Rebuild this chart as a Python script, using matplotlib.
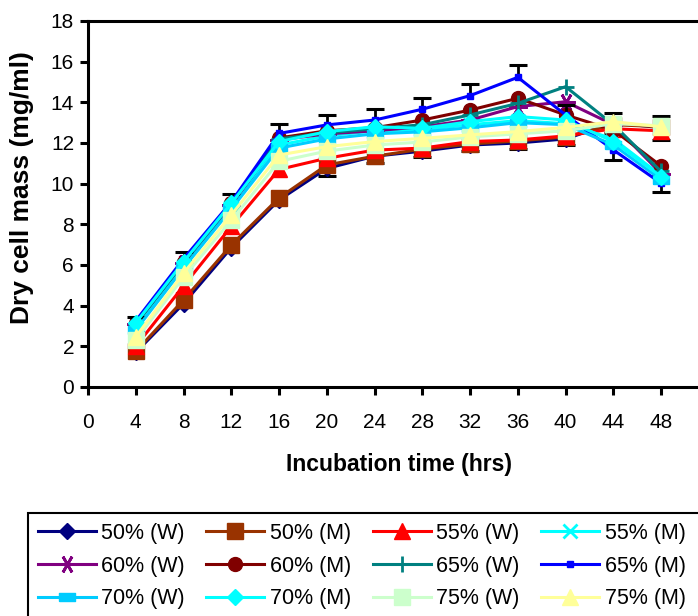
import numpy as np
import matplotlib.pyplot as plt
from matplotlib.patches import Rectangle

plt.rcParams['font.family'] = ['Liberation Sans', 'DejaVu Sans']

# incubation time (hrs)
hours = [4, 8, 12, 16, 20, 24, 28, 32, 36, 40, 44, 48]

labels = ['50% (W)', '50% (M)', '55% (W)', '55% (M)',
          '60% (W)', '60% (M)', '65% (W)', '65% (M)',
          '70% (W)', '70% (M)', '75% (W)', '75% (M)']

# dry cell mass (mg/ml)
w50 = [1.7, 4.1, 6.85, 9.2, 10.75, 11.35, 11.6, 11.9, 12.0, 12.2, 13.0, 12.75]
m50 = [1.75, 4.28, 6.98, 9.3, 10.92, 11.35, 11.7, 11.95, 12.1, 12.3, 12.9, 12.8]
w55 = [2.0, 4.97, 7.9, 10.7, 11.25, 11.65, 11.75, 12.07, 12.15, 12.35, 12.7, 12.6]
m55 = [2.9, 5.95, 8.85, 11.9, 12.35, 12.6, 12.65, 12.9, 13.1, 12.95, 12.2, 10.4]
w60 = [3.1, 6.1, 8.95, 12.15, 12.45, 12.6, 12.8, 13.13, 13.79, 14.03, 12.9, 10.5]
m60 = [3.15, 6.15, 9.05, 12.25, 12.6, 12.75, 13.13, 13.62, 14.2, 13.38, 12.64, 10.87]
w65 = [3.1, 6.1, 9.0, 12.2, 12.5, 12.7, 12.9, 13.38, 13.95, 14.77, 12.9, 10.6]
m65 = [3.25, 6.3, 9.1, 12.47, 12.89, 13.13, 13.66, 14.33, 15.23, 13.38, 11.66, 10.02]
w70 = [2.8, 5.85, 8.75, 11.75, 12.2, 12.45, 12.55, 12.75, 13.0, 12.9, 11.9, 10.2]
m70 = [3.15, 6.16, 9.03, 12.07, 12.56, 12.8, 12.72, 13.05, 13.3, 13.13, 12.07, 10.35]
w75 = [2.3, 5.4, 8.2, 11.1, 11.6, 11.9, 12.05, 12.3, 12.45, 12.6, 12.95, 12.85]
m75 = [2.47, 5.6, 8.46, 11.41, 11.82, 12.07, 12.23, 12.4, 12.56, 12.77, 13.05, 12.8]

# visible parts of the error bars (nan = hidden behind other markers)
nan = np.nan
w50_lo = [nan, nan, nan, nan, 0.35, 0.35, 0.3, 0.3, 0.3, 0.3, 0.5, 0.6]
w50_hi = [nan, nan, nan, nan, nan, nan, nan, nan, nan, nan, 0.5, 0.6]
m65_lo = [nan, nan, nan, nan, nan, nan, nan, nan, nan, nan, 0.5, 0.42]
m65_hi = [0.2, 0.35, 0.4, 0.45, 0.5, 0.53, 0.54, 0.56, 0.6, 0.5, nan, nan]

series = [w50, m50, w55, m55, w60, m60, w65, m65, w70, m70, w75, m75]
errors = {0: (w50_lo, w50_hi), 7: (m65_lo, m65_hi)}

colors = ['#000080', '#993300', '#FF0000', '#00FFFF',
          '#800080', '#800000', '#008080', '#0000FF',
          '#00CCFF', '#00FFFF', '#CCFFCC', '#FFFF99']
dash = [(-1, -0.5), (1, -0.5), (1, 0.5), (-1, 0.5), (-1, -0.5)]
markers = ['D', 's', '^', 'x', (6, 2, 90), 'o', '+', 's', dash, 'D', 's', '^']
msizes = [8.5, 11.5, 11.5, 10, 13, 10, 11, 4.5, 11, 8.5, 11.5, 11.5]

fig = plt.figure(figsize=(6.98, 6.16), dpi=100)
ax = fig.add_axes([88/698, 1-387/616, 52*11.94/698, 366/616])

handles = []
for i, ys in enumerate(series):
    c = colors[i]
    mew = 2 if markers[i] in ('x', '+') or i == 4 else 1
    if i in errors:
        lo = np.array(errors[i][0])
        hi = np.array(errors[i][1])
        y = np.array(ys)
        # stems, then the caps on the visible ends only
        ax.errorbar(hours, ys, yerr=[np.nan_to_num(lo), np.nan_to_num(hi)],
                    fmt='none', ecolor='black', elinewidth=2, capsize=0,
                    zorder=2 + i)
        ax.plot(hours, y - lo, ls='none', marker='_', ms=13, mew=2.2,
                color='black', zorder=2 + i)
        ax.plot(hours, y + hi, ls='none', marker='_', ms=13, mew=2.2,
                color='black', zorder=2 + i)
    h, = ax.plot(hours, ys, color=c, lw=2.2, marker=markers[i], ms=msizes[i],
                 mfc=c, mec=c, mew=mew, label=labels[i], zorder=2 + i,
                 clip_on=False)
    handles.append(h)

ax.set_xlim(0, 52)
ax.set_ylim(0, 18)
ax.set_xticks(np.arange(0, 49, 4))
ax.set_yticks(np.arange(0, 19, 2))
ax.tick_params(axis='both', labelsize=15, width=2.2, length=6)
ax.tick_params(axis='y', pad=4)
ax.tick_params(axis='x', pad=13)
for s in ['left', 'bottom', 'top']:
    ax.spines[s].set_linewidth(2.2)
ax.spines['right'].set_visible(False)

fig.text(22/698, 1-188/616, 'Dry cell mass (mg/ml)', rotation=90,
         ha='center', va='center', fontsize=19, fontweight='bold')
fig.text(399/698, 1-465/616, 'Incubation time (hrs)',
         ha='center', va='center', fontsize=16.5, fontweight='bold')

# legend is filled row by row in the original
order = [0, 4, 8, 1, 5, 9, 2, 6, 10, 3, 7, 11]
leg = fig.legend([handles[k] for k in order], [labels[k] for k in order],
                 ncol=4, loc='upper left', bbox_to_anchor=(28/698, 1-513/616),
                 fontsize=15.5, frameon=False,
                 handlelength=2.7, handletextpad=0.25, columnspacing=1.0,
                 labelspacing=0.55, borderpad=0.45, borderaxespad=0)

# legend box runs off the right and bottom edges
fig.patches.append(Rectangle((28/698, -0.1), 1.0, 1-513/616+0.1,
                             transform=fig.transFigure, fill=False,
                             edgecolor='black', linewidth=1.5))

fig.savefig('out.png', dpi=100)
